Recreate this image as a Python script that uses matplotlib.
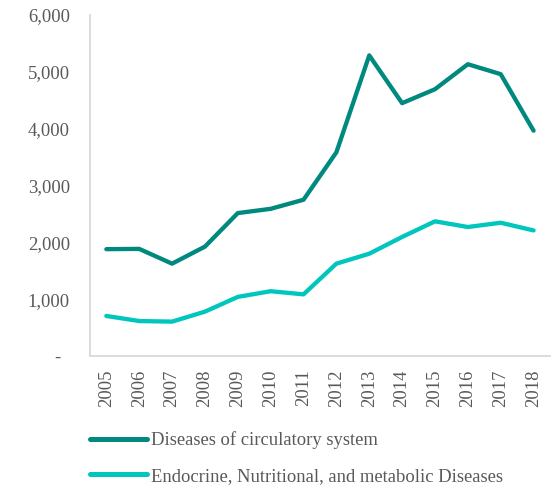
import matplotlib
matplotlib.use("Agg")
import matplotlib.pyplot as plt
from matplotlib.transforms import ScaledTranslation

years = ["2005", "2006", "2007", "2008", "2009", "2010", "2011",
         "2012", "2013", "2014", "2015", "2016", "2017", "2018"]
circulatory = [1880, 1885, 1625, 1925, 2515, 2590, 2750,
               3585, 5290, 4450, 4695, 5135, 4960, 3965]
endocrine = [705, 615, 605, 780, 1040, 1140, 1085,
             1625, 1800, 2095, 2370, 2270, 2345, 2210]
series_names = ["Diseases of circulatory system",
                "Endocrine, Nutritional, and metabolic Diseases"]
ytick_values = [0, 1000, 2000, 3000, 4000, 5000, 6000]
ytick_labels = ["-", "1,000", "2,000", "3,000", "4,000", "5,000", "6,000"]

plt.rcParams["font.family"] = ["Liberation Serif", "DejaVu Serif"]
text_color = "#595959"
axis_color = "#D9D9D9"

fig = plt.figure(figsize=(5.55, 4.86), dpi=100)
ax = fig.add_axes([0.162, 0.2675, 0.829, 0.7015])

x = list(range(len(years)))
ax.plot(x, circulatory, color="#00897F", lw=3.1, solid_capstyle="round",
        solid_joinstyle="round", label=series_names[0])
ax.plot(x, endocrine, color="#00C6BE", lw=3.1, solid_capstyle="round",
        solid_joinstyle="round", label=series_names[1])

ax.set_xlim(-0.5, len(years) - 0.5)
ax.set_ylim(0, 6000)
ax.set_xticks(x)
ax.set_xticklabels(years, rotation=90)
ax.set_yticks(ytick_values)
ax.set_yticklabels(ytick_labels)
ax.tick_params(axis="both", length=0, labelsize=13.4, colors=text_color)
ax.tick_params(axis="y", pad=14.5)
ax.tick_params(axis="x", pad=9.5)

# shift the zero dash left, as in an accounting number format
zero_label = ax.get_yticklabels()[0]
zero_label.set_transform(zero_label.get_transform()
                         + ScaledTranslation(-0.09, 0, fig.dpi_scale_trans))

for side in ("top", "right"):
    ax.spines[side].set_visible(False)
for side in ("left", "bottom"):
    ax.spines[side].set_color(axis_color)
    ax.spines[side].set_linewidth(1.3)

leg = fig.legend(loc="upper left", bbox_to_anchor=(0.149, 0.128),
                 frameon=False, fontsize=13.4, handlelength=3.05,
                 handletextpad=0.2, labelspacing=1.0, borderaxespad=0,
                 labelcolor=text_color)
for line in leg.get_lines():
    line.set_linewidth(3.6)
    line.set_solid_capstyle("round")

fig.savefig("out.png", dpi=100)
